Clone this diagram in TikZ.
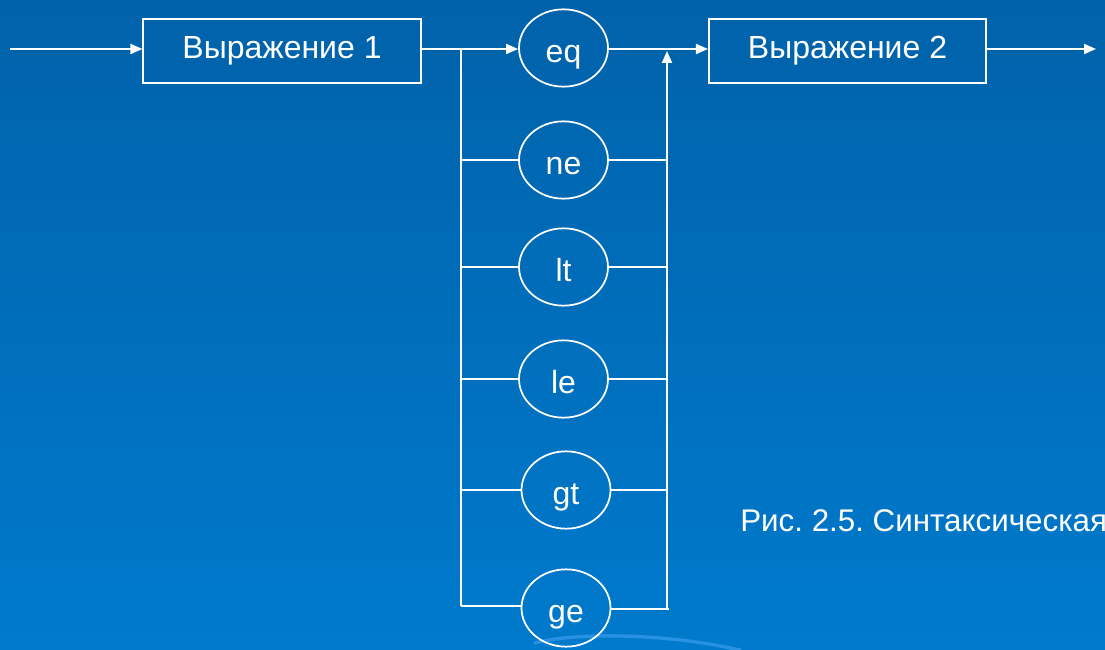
\documentclass[tikz,border=0pt]{standalone}
\usepackage{fontspec}
\setmainfont{Liberation Sans}
\frenchspacing
\usetikzlibrary{arrows.meta,shapes.geometric}
\definecolor{bgtop}{RGB}{0,98,170}
\definecolor{bgbottom}{RGB}{0,122,204}
\definecolor{swoosh}{RGB}{40,145,228}
\begin{document}
\begin{tikzpicture}[x=0.75pt,y=-0.75pt,
  wire/.style={draw=white,line width=1.5pt},
  arr/.style={wire,-{Triangle[length=9pt,width=7.5pt]}},
  exprbox/.style={draw=white,line width=1.3pt,rectangle,minimum width=208pt,minimum height=48pt,inner sep=0pt,text=white,font=\fontsize{24}{28}\selectfont},
  relop/.style={draw=white,line width=1.3pt,ellipse,minimum width=66.75pt,minimum height=58pt,inner sep=0pt,text height=24pt,text depth=2pt,text=white,font=\fontsize{24}{28}\selectfont},
  caption/.style={text=white,anchor=west,inner sep=0pt,font=\fontsize{23.5}{27}\selectfont}]
\useasboundingbox (0,0) rectangle (1105,649);
\clip (0,0) rectangle (1105,649);
\shade[top color=bgtop,bottom color=bgbottom] (0,0) rectangle (1105,649);
% decorative swoosh at the bottom edge
\draw[swoosh,line width=2.5pt,line cap=round] (535,643) .. controls (570,633) and (660,632) .. (740,650);

% expressions
\node[exprbox] (b1) at (282,51) {Выражение 1};
\node[exprbox] (b2) at (847.5,51) {Выражение 2};

% relational operators
\node[relop] (eq) at (563.5,48) {eq};
\node[relop] (ne) at (563.5,160) {ne};
\node[relop] (lt) at (563.5,267) {lt};
\node[relop] (le) at (563.5,379) {le};
\node[relop] (gt) at (566,490) {gt};
\node[relop] (ge) at (566,608) {ge};

% junction points
\coordinate (in) at (10,49);
\coordinate (out) at (1096,49);
\coordinate (L) at (461,49);
\coordinate (Lb) at (461,606);
\coordinate (R) at (667,51);
\coordinate (Rb) at (667,609);
\coordinate (Re) at (669,609);

\draw[arr] (in) -- (b1.west |- in);
\draw[arr] (b1.east |- L) -- (eq.west |- L);
\draw[arr] (eq.east |- L) -- (b2.west |- L);
\draw[arr] (b2.east |- out) -- (out);

\draw[wire] (L) -- (Lb);
\draw[arr] (Rb) -- (R);

\foreach \n in {ne,lt,le,gt}{
  \draw[wire] (L |- \n) -- (\n.west);
  \draw[wire] (\n.east) -- (R |- \n);
}
\draw[wire] (Lb) -- (ge.west |- Lb);
\draw[wire] (ge.east |- Re) -- (Re);

\node[caption] (cap) at (740,521) {Рис. 2.5. Синтаксическая};
\end{tikzpicture}
\end{document}
